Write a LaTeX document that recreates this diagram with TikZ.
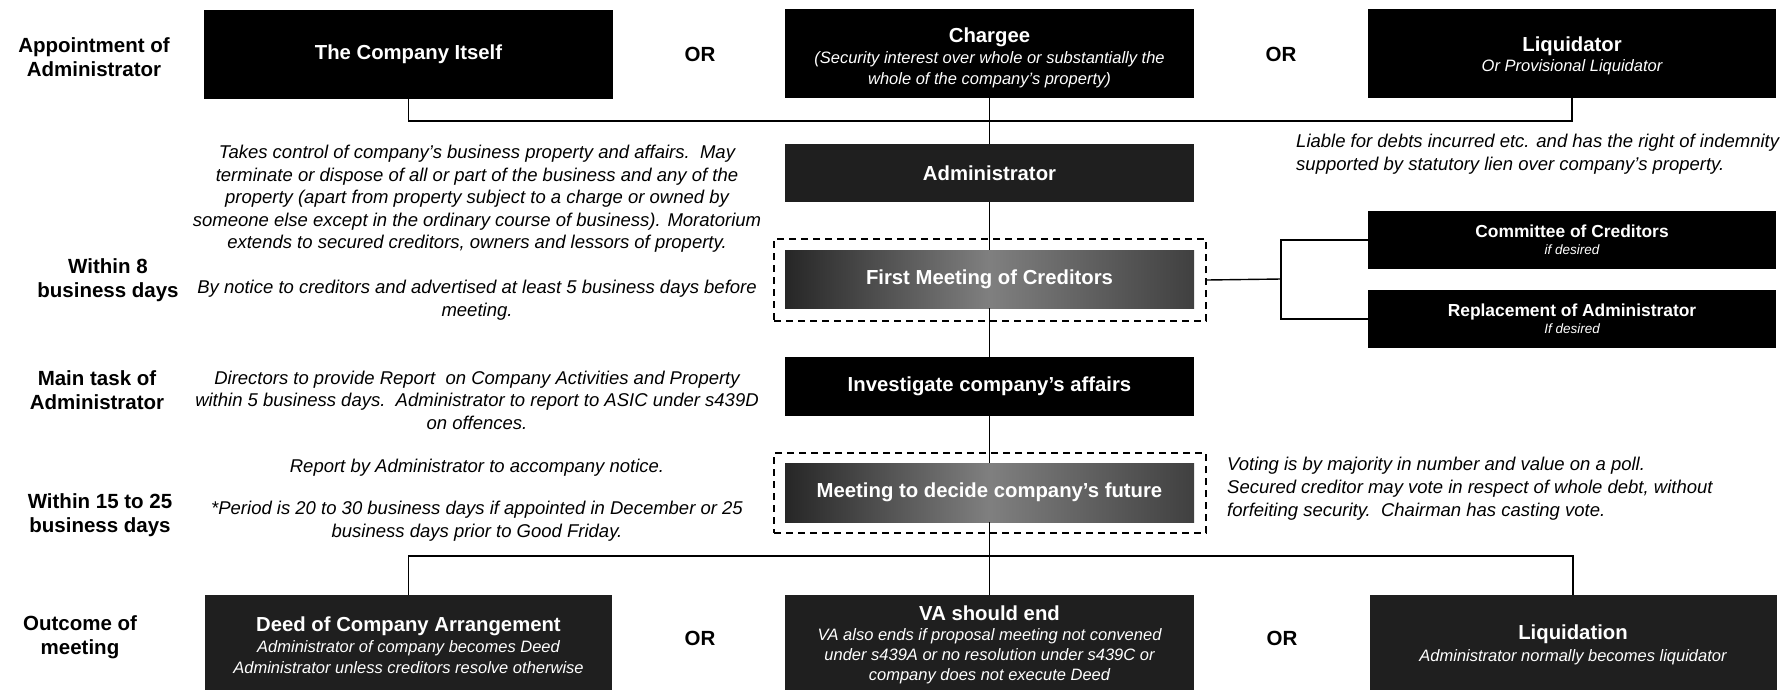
\documentclass[tikz,border=0pt]{standalone}
\usepackage{fontspec}
\setmainfont{Liberation Sans}
\newcommand\subf{\itshape\mdseries\fontsize{16.5}{20}\selectfont}
\newcommand\subs{\itshape\mdseries\fontsize{13.5}{16}\selectfont}
\begin{document}
\begin{tikzpicture}[x=1pt,y=-1pt,
  box/.style={draw=none,fill=black,text=white,minimum width=409pt,minimum height=58pt,inner sep=0pt,align=center,font=\bfseries\fontsize{20.3}{23}\selectfont},
  boxtext/.style={text=white,inner sep=0pt,align=center,font=\bfseries\fontsize{20.3}{23}\selectfont},
  grain/.style={box,fill=black!88},
  greybox/.style={box,left color=black!85,right color=black!75,middle color=black!50},
  frame/.style={draw,dashed,dash pattern=on 7pt off 5pt,line width=1.6pt,minimum width=432pt,inner sep=0pt},
  lbl/.style={font=\bfseries\fontsize{20.5}{24}\selectfont,align=center},
  ortxt/.style={font=\bfseries\fontsize{20.5}{24}\selectfont},
  para/.style={font=\itshape\fontsize{18.5}{22.6}\selectfont,align=center},
  rpara/.style={font=\itshape\fontsize{18.5}{22.8}\selectfont,align=left,anchor=north west,inner sep=0pt},
  conn/.style={line width=1.4pt}]
\useasboundingbox (0,0) rectangle (1790,689);
\fill[white] (0,0) rectangle (1790,689);
% left labels
\node[lbl] (l1) at (94,57) {Appointment of\\Administrator};
\node[lbl] (l2) at (108,280) {Within 8\\business days};
\node[lbl] (l3) at (97,390) {Main task of\\Administrator};
\node[lbl] (l4) at (100,515) {Within 15 to 25\\business days};
\node[lbl] (l5) at (80,637) {Outcome of\\meeting};
% top row
\node[box,minimum height=89pt] (company) at (408.5,54.5) {The Company Itself};
\node[ortxt] (or1) at (700,54) {OR};
\node[box,minimum height=89pt] (chargee) at (989.5,53.5) {};
\node[boxtext] (chargeetxt) at (989.5,58) {Chargee\\[-2pt]\subf (Security interest over whole or substantially the\\[-2pt]\subf whole of the company's property)};
\node[ortxt] (or2) at (1281,54) {OR};
\node[box,minimum height=89pt,minimum width=408pt] (liq) at (1572,53.5) {};
\node[boxtext] (liqtxt) at (1572,55.5) {Liquidator\\[-3pt]\subf Or Provisional Liquidator};
% centre column
\node[grain] (admin) at (989.5,173) {Administrator};
\node[frame,minimum height=82pt] (ff) at (990,280) {};
\node[greybox] (first) at (989.5,279) {First Meeting of Creditors};
\node[box,minimum height=59pt] (invest) at (989.5,386.5) {Investigate company's affairs};
\node[frame,minimum height=80pt] (mf) at (990,493) {};
\node[greybox,minimum height=59pt] (meet) at (989.5,492.5) {Meeting to decide company's future};
% right side boxes
\node[box,minimum width=408pt,font=\bfseries\fontsize{17.4}{20}\selectfont] (comm) at (1572,240) {Committee of Creditors\\[-3pt]\subs if desired};
\node[box,minimum width=408pt,font=\bfseries\fontsize{17.4}{20}\selectfont] (repl) at (1572,319) {Replacement of Administrator\\[-3pt]\subs If desired};
% outcome row
\node[grain,minimum height=100pt,minimum width=407pt] (deed) at (408.5,645) {Deed of Company Arrangement\\[-2pt]\subf Administrator of company becomes Deed\\[-2pt]\subf Administrator unless creditors resolve otherwise};
\node[ortxt] (or3) at (700,638) {OR};
\node[grain,minimum height=100pt] (va) at (989.5,645) {VA should end\\[-3pt]\subf VA also ends if proposal meeting not convened\\[-3pt]\subf under s439A or no resolution under s439C or\\[-3pt]\subf company does not execute Deed};
\node[ortxt] (or4) at (1282,638) {OR};
\node[grain,minimum height=100pt,minimum width=407pt] (liqd) at (1573,645) {Liquidation\\[-1pt]\subf Administrator normally becomes liquidator};
% texts
\node[para] (t1) at (477,199) {Takes control of company's business property and affairs.\ \ May\\terminate or dispose of all or part of the business and any of the\\property (apart from property subject to a charge or owned by\\someone else except in the ordinary course of business). Moratorium\\extends to secured creditors, owners and lessors of property.};
\node[para] (t2) at (477,300) {By notice to creditors and advertised at least 5 business days before\\meeting.};
\node[para] (t3) at (477,400) {Directors to provide Report\ \ on Company Activities and Property\\within 5 business days.\ \ Administrator to report to ASIC under s439D\\on offences.};
\node[para] (t4) at (477,468) {Report by Administrator to accompany notice.};
\node[para] (t5) at (477,521) {*Period is 20 to 30 business days if appointed in December or 25\\business days prior to Good Friday.};
\node[rpara] (t6) at (1296,134) {Liable for debts incurred etc. and has the right of indemnity\\supported by statutory lien over company's property.};
\node[rpara] (t7) at (1227,457) {Voting is by majority in number and value on a poll.\\Secured creditor may vote in respect of whole debt, without\\forfeiting security.\ \ Chairman has casting vote.};
% connectors
\coordinate (j1) at (989.5,121);
\coordinate (b1) at (1281,279);
\coordinate (j2) at (989.5,556);
\draw[conn] (company.south) |- (j1) -| (liq.south);
\draw[conn] (chargee.south) -- (admin.north);
\draw[conn] (admin.south) -- (first.north);
\draw[conn] (first.south) -- (invest.north);
\draw[conn] (invest.south) -- (meet.north);
\draw[conn] (meet.south) -- (va.north);
\draw[conn] (deed.north) |- (j2) -| (liqd.north);
\draw[conn] (ff.east) -- (b1);
\draw[conn] (comm.west) -| (b1) |- (repl.west);
\end{tikzpicture}
\end{document}
